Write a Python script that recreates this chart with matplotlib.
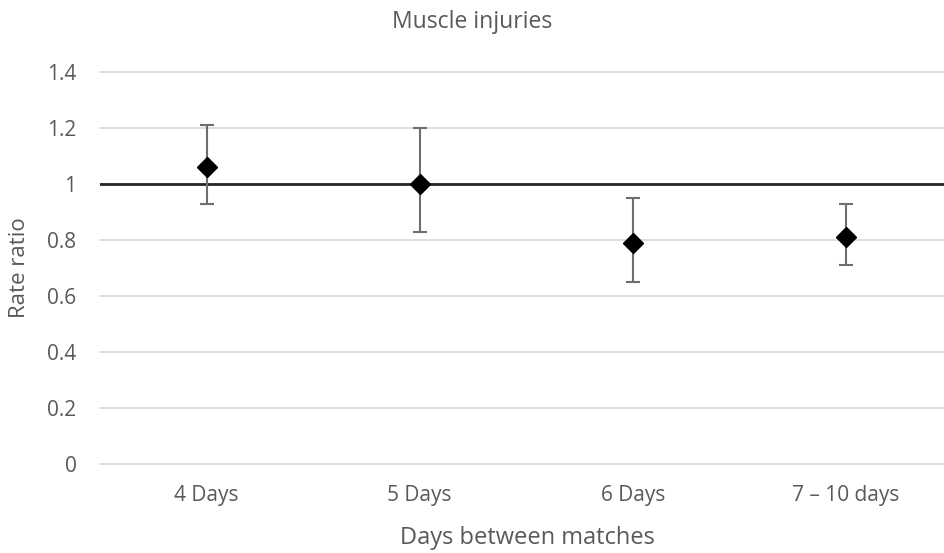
import numpy as np
import matplotlib.pyplot as plt

plt.rcParams['font.family'] = ['Open Sans', 'DejaVu Sans']

# Data
categories = ['4 Days', '5 Days', '6 Days', '7 \u2013 10 days']
rate_ratio = [1.06, 1.00, 0.79, 0.81]
ci_lower = [0.93, 0.83, 0.65, 0.71]
ci_upper = [1.21, 1.20, 0.95, 0.93]
y_ticks = [0, 0.2, 0.4, 0.6, 0.8, 1, 1.2, 1.4]
y_tick_labels = ['0', '0.2', '0.4', '0.6', '0.8', '1', '1.2', '1.4']

text_color = '#595959'

fig = plt.figure(figsize=(9.44, 5.53), dpi=100)
ax = fig.add_axes([100 / 944, 89 / 553, 844 / 944, 392 / 553])

x = np.arange(len(categories))
vals = np.array(rate_ratio)
yerr = [vals - np.array(ci_lower), np.array(ci_upper) - vals]

# reference line at 1
ax.axhline(1, color='#262626', lw=2, zorder=2)

ax.errorbar(x, vals, yerr=yerr, fmt='D', color='black', markersize=10,
            ecolor='#6e6e6e', elinewidth=1.5, capsize=5, capthick=1.5, zorder=3)

ax.set_xlim(-0.5, 3.46)
ax.set_ylim(0, 1.4)
ax.set_yticks(y_ticks)
ax.set_yticklabels(y_tick_labels)
ax.set_xticks(x)
ax.set_xticklabels(categories)

ax.grid(axis='y', color='#d9d9d9', lw=1.2, zorder=0)
for gl in ax.get_ygridlines():
    gl.set_clip_on(False)
ax.set_axisbelow(True)
for s in ax.spines.values():
    s.set_visible(False)
ax.tick_params(axis='y', length=0, labelsize=15, colors=text_color, pad=17)
ax.tick_params(axis='x', length=0, labelsize=15, colors=text_color, pad=15)

ax.text(0.5, 1 - 22 / 553, 'Muscle injuries', transform=fig.transFigure,
        ha='center', va='center', fontsize=16.5, color=text_color)
ax.set_xlabel('Days between matches', fontsize=17, color=text_color)
ax.xaxis.set_label_coords((527 - 100) / 844, (553 - 538 - 89) / 392)
ax.xaxis.label.set_va('center')
ax.set_ylabel('Rate ratio', fontsize=16, color=text_color)
ax.yaxis.set_label_coords((20 - 100) / 844, 0.5)
ax.yaxis.label.set_va('center')

fig.savefig('out.png', dpi=100)
